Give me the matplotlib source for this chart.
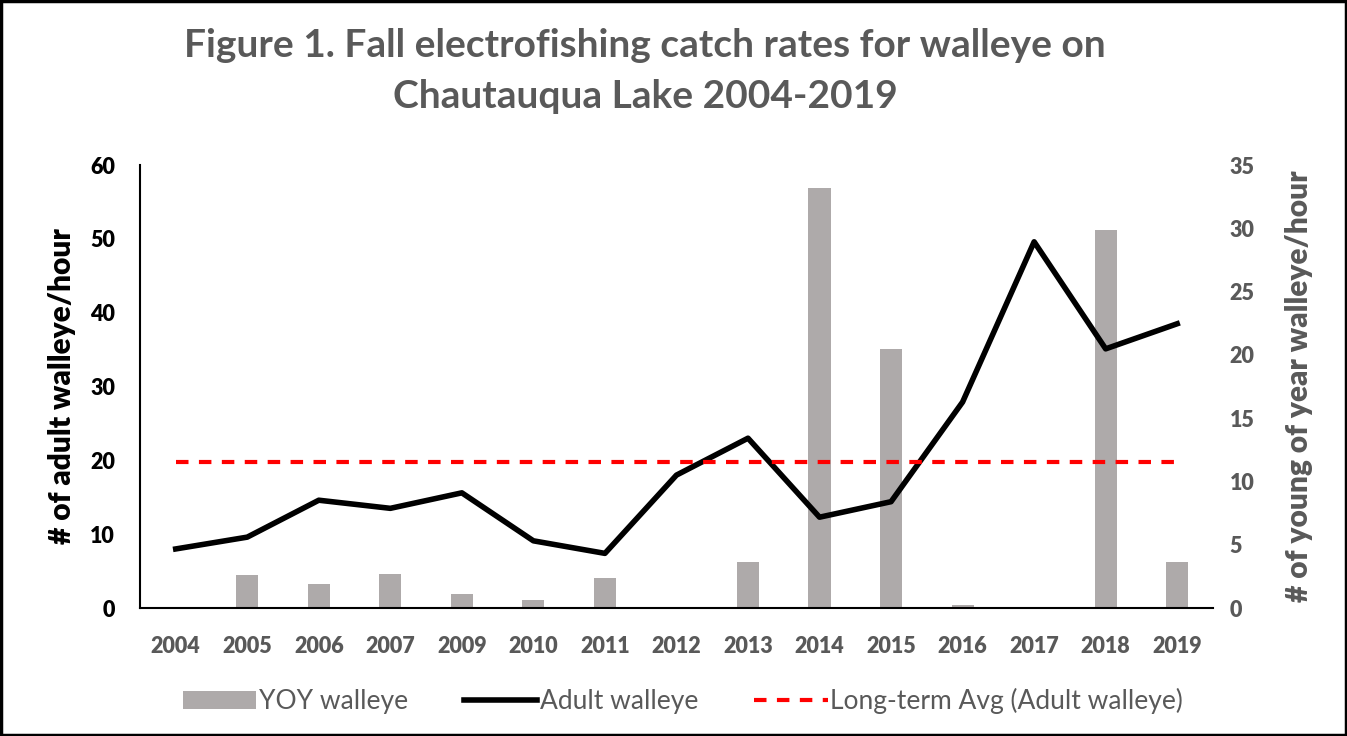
import matplotlib.pyplot as plt
import numpy as np

plt.rcParams['font.family'] = ['Lato', 'DejaVu Sans']

years = ['2004', '2005', '2006', '2007', '2009', '2010', '2011', '2012',
         '2013', '2014', '2015', '2016', '2017', '2018', '2019']
adult = [8.0, 9.6, 14.6, 13.5, 15.6, 9.1, 7.4, 18.0, 23.0, 12.3, 14.4, 27.9, 49.6, 35.1, 38.5]
yoy = [0.0, 2.6, 1.9, 2.7, 1.1, 0.6, 2.4, 0.05, 3.6, 33.2, 20.5, 0.2, 0.05, 29.9, 3.6]
avg_adult = 19.8

gray = '#595959'
x = np.arange(len(years))

fig = plt.figure(figsize=(13.47, 7.36), dpi=100)
ax = fig.add_axes([0.1039, 0.1739, 0.7966, 0.6019])
ax2 = ax.twinx()

# bars on the right axis, lines drawn above them
bars = ax2.bar(x, yoy, width=0.31, color='#aeaaaa', label='YOY walleye')
ax.set_zorder(ax2.get_zorder() + 1)
ax.patch.set_visible(False)

l1, = ax.plot(x, adult, color='black', linewidth=4, label='Adult walleye')
l2, = ax.plot(x, [avg_adult] * len(x), color='#ff0000', linewidth=3,
              linestyle=(0, (3, 2.5)), label='Long-term Avg (Adult walleye)')

ax.set_xlim(-0.5, 14.5)
ax.set_ylim(0, 60)
ax2.set_ylim(0, 35)
ax.set_yticks(range(0, 61, 10))
ax2.set_yticks(range(0, 36, 5))
ax.set_xticks(x)
ax.set_xticklabels(years, fontsize=15.5, fontweight='heavy', color=gray)

for lab in ax.get_yticklabels():
    lab.set_fontsize(15.5)
    lab.set_fontweight('heavy')
for lab in ax2.get_yticklabels():
    lab.set_fontsize(15.5)
    lab.set_fontweight('heavy')
    lab.set_color(gray)

ax.tick_params(axis='x', length=0, pad=20)
ax.tick_params(axis='y', length=0, pad=18)
ax2.tick_params(length=0, pad=12)

for a in (ax, ax2):
    a.spines['top'].set_visible(False)
    a.spines['right'].set_visible(False)
ax2.spines['left'].set_visible(False)
ax2.spines['bottom'].set_visible(False)
ax.spines['left'].set_linewidth(1.5)
ax.spines['bottom'].set_linewidth(1.5)

ax.set_ylabel('# of adult walleye/hour', fontsize=21.5, fontweight='heavy', labelpad=10)
ax2.set_ylabel('# of young of year walleye/hour', fontsize=21.5, fontweight='heavy',
               color=gray, labelpad=22)

fig.suptitle('Figure 1. Fall electrofishing catch rates for walleye on\nChautauqua Lake 2004-2019',
             fontsize=28, fontweight='bold', color=gray, x=0.479, y=0.962, linespacing=1.55)

leg = fig.legend([bars, l1, l2], ['YOY walleye', 'Adult walleye', 'Long-term Avg (Adult walleye)'],
                 loc='center', bbox_to_anchor=(0.507, 0.047), ncol=3, frameon=False,
                 fontsize=19, handlelength=2.8, handletextpad=0.1, columnspacing=2.1)
for t in leg.get_texts():
    t.set_color(gray)

fig.patches.append(plt.Rectangle((0.001, 0.001), 0.998, 0.998, transform=fig.transFigure,
                                 fill=False, edgecolor='black', linewidth=2.5))

fig.savefig('out.png', dpi=100)
